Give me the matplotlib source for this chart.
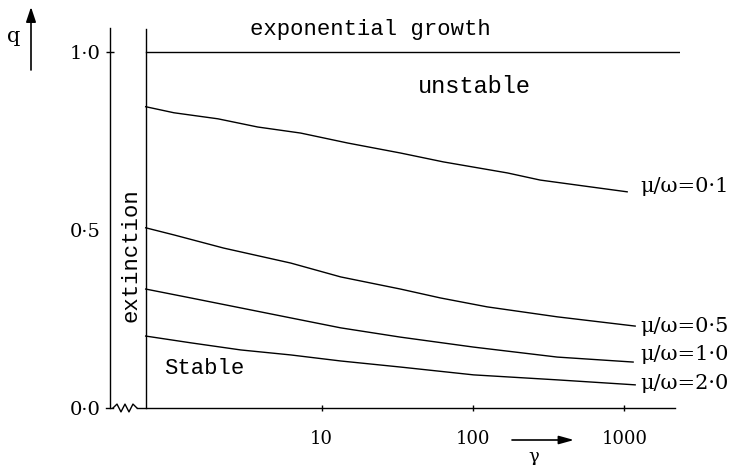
import numpy as np
import matplotlib
matplotlib.use("Agg")
import matplotlib.pyplot as plt
from matplotlib.ticker import NullLocator

# gamma values (log axis) and q values
gamma_01 = [0.69, 1.06, 2.07, 3.79, 7.28, 14.9, 33.2, 63.8, 169, 278, 594, 1043]
q_01 = [0.846, 0.829, 0.812, 0.789, 0.772, 0.744, 0.716, 0.691, 0.660, 0.640, 0.621, 0.607]

gamma_05 = [0.69, 1.06, 2.26, 6.26, 13.4, 33.2, 61.0, 124, 360, 1178]
q_05 = [0.506, 0.486, 0.449, 0.407, 0.368, 0.334, 0.309, 0.284, 0.256, 0.230]

gamma_10 = [0.69, 1.37, 2.93, 6.26, 13.4, 33.2, 101, 360, 1142]
q_10 = [0.334, 0.309, 0.281, 0.253, 0.225, 0.199, 0.171, 0.143, 0.129]

gamma_20 = [0.69, 1.37, 2.93, 6.26, 13.4, 33.2, 101, 360, 1178]
q_20 = [0.202, 0.183, 0.163, 0.149, 0.132, 0.115, 0.093, 0.079, 0.065]

curve_labels = ["μ/ω=0·1", "μ/ω=0·5", "μ/ω=1·0", "μ/ω=2·0"]
label_q = [0.621, 0.230, 0.149, 0.070]

x_ticks = [10, 100, 1000]
x_ticklabels = ["10", "100", "1000"]
y_ticks = [0.0, 0.5, 1.0]
y_ticklabels = ["0·0", "0·5", "1·0"]

gamma_min, gamma_max = 0.401, 2329
gamma_ext = 0.693  # extinction boundary
q_top = 1.067

MONO = "Liberation Mono"
SERIF = "DejaVu Serif"


def main():
    fig = plt.figure(figsize=(7.4, 4.65), dpi=100)
    ax = fig.add_axes([110 / 740, 57 / 465, 570 / 740, 380 / 465])
    ax.set_xscale("log")
    ax.set_xlim(gamma_min, gamma_max)
    ax.set_ylim(0, q_top)

    for s in ["top", "right", "bottom"]:
        ax.spines[s].set_visible(False)
    ax.spines["left"].set_linewidth(1.0)

    lw = 1.0
    # curves
    for g, q in [(gamma_01, q_01), (gamma_05, q_05), (gamma_10, q_10), (gamma_20, q_20)]:
        ax.plot(g, q, color="black", lw=lw)

    # q = 1 line and extinction boundary
    ax.plot([gamma_ext, gamma_max], [1.0, 1.0], color="black", lw=lw)
    ax.plot([gamma_ext, gamma_ext], [0, 1.064], color="black", lw=lw, clip_on=False)

    # bottom axis with a broken-axis squiggle
    g_sq0 = 10 ** ((112 - 169.2) / 151.7)
    g_sq1 = 10 ** ((136 - 169.2) / 151.7)
    ax.plot([gamma_min * 0.94, g_sq0], [0, 0], color="black", lw=lw, clip_on=False)
    sx = np.logspace(np.log10(g_sq0), np.log10(g_sq1), 7)
    sy = [0, 0.011, -0.011, 0.011, -0.011, 0.011, 0]
    ax.plot(sx, sy, color="black", lw=lw, clip_on=False)
    ax.plot([g_sq1, 10 ** ((675 - 169.2) / 151.7)], [0, 0], color="black", lw=lw, clip_on=False)

    ax.set_xticks(x_ticks)
    ax.set_xticklabels(x_ticklabels, fontfamily=SERIF, fontsize=13)
    ax.xaxis.set_minor_locator(NullLocator())
    ax.tick_params(axis="x", direction="inout", length=5, width=1.0, pad=13)

    ax.set_yticks(y_ticks)
    ax.set_yticklabels(y_ticklabels, fontfamily=SERIF, fontsize=14)
    ax.tick_params(axis="y", direction="inout", length=6, width=1.0, pad=4)
    for t in ax.yaxis.get_major_ticks()[:2]:
        t.tick1line.set_visible(False)

    # region labels
    ax.text(21.1, 1.062, "exponential growth", fontfamily=MONO, fontsize=16,
            ha="center", va="center")
    ax.text(102, 0.902, "unstable", fontfamily=MONO, fontsize=17,
            ha="center", va="center")
    ax.text(0.55, 0.43, "extinction", fontfamily=MONO, fontsize=16,
            rotation=90, ha="center", va="center")
    ax.text(0.91, 0.112, "Stable", fontfamily=MONO, fontsize=16,
            ha="left", va="center")

    for lab, q in zip(curve_labels, label_q):
        ax.text(1268, q, lab, fontfamily=SERIF, fontsize=15, ha="left", va="center")

    # axis names with arrows
    fig.text(14 / 740, 1 - 37 / 465, "q", fontfamily=SERIF, fontsize=15,
             ha="center", va="center")
    ax.annotate("", xy=(31, 458), xytext=(31, 395), xycoords="figure pixels",
                textcoords="figure pixels",
                arrowprops=dict(arrowstyle="-|>,head_length=0.9,head_width=0.3",
                                color="black", lw=1.2, shrinkA=0, shrinkB=0))
    ax.annotate("", xy=(574, 25), xytext=(512, 25), xycoords="figure pixels",
                textcoords="figure pixels",
                arrowprops=dict(arrowstyle="-|>,head_length=0.9,head_width=0.25",
                                color="black", lw=1.2, shrinkA=0, shrinkB=0))
    fig.text(534 / 740, 8 / 465, "γ", fontfamily=SERIF, fontsize=13,
             ha="center", va="center")

    fig.savefig("out.png", dpi=100)


if __name__ == "__main__":
    main()
